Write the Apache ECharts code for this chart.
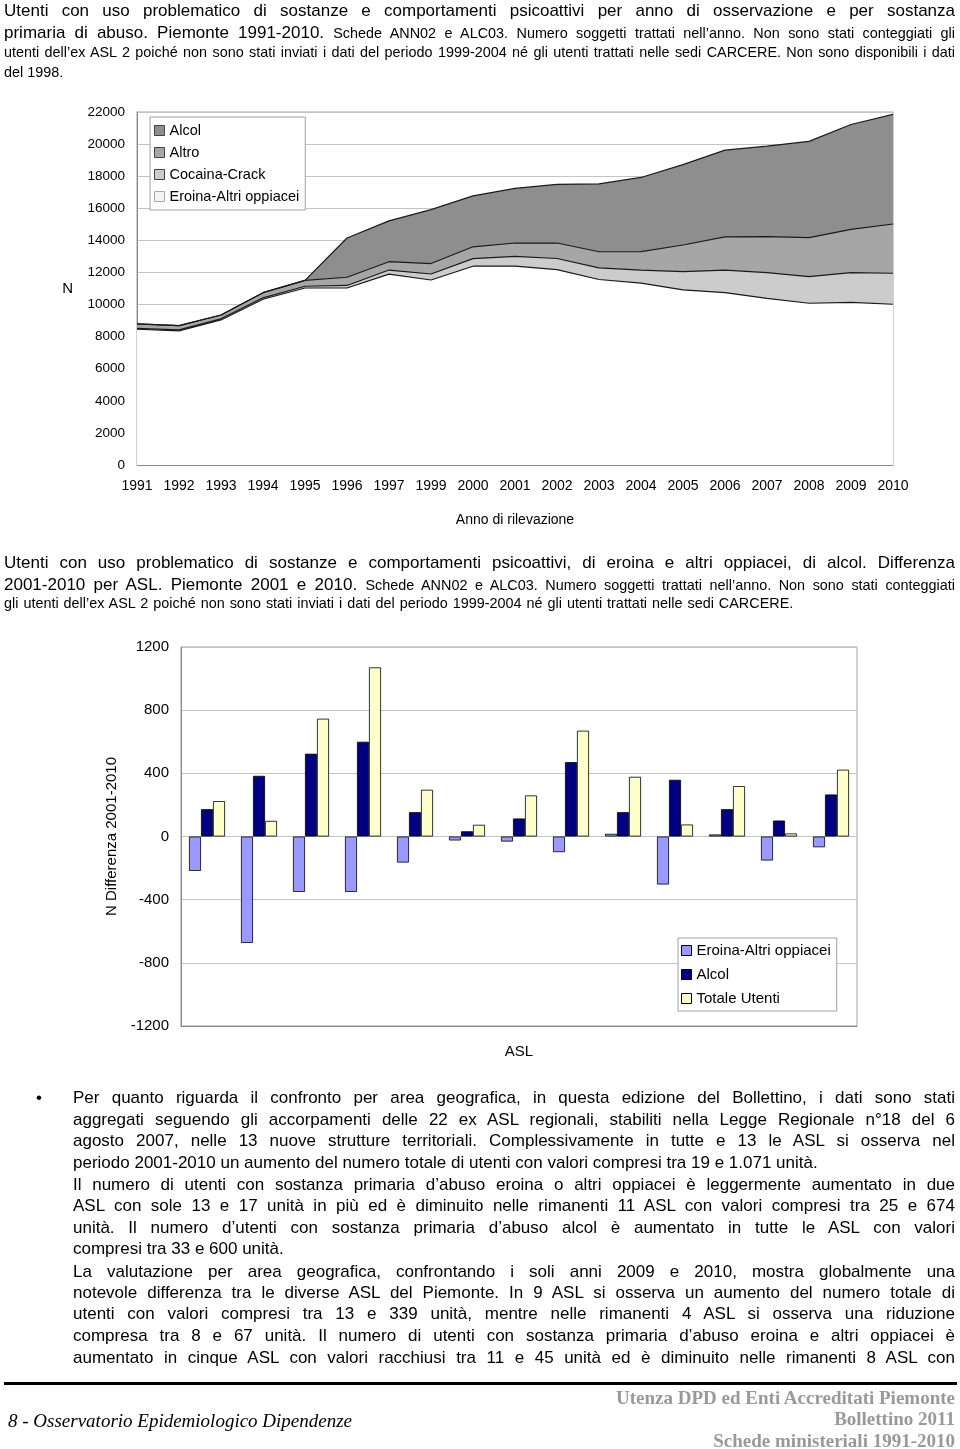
<!DOCTYPE html>
<html><head><meta charset="utf-8">
<script src="https://cdn.jsdelivr.net/npm/echarts@6/dist/echarts.min.js"></script>
<style>
body{margin:0;background:#fff;}
#page{position:relative;width:960px;height:1449px;overflow:hidden;font-family:"Liberation Sans",Arial,sans-serif;color:#000;background:#fff;}
#chart{position:absolute;left:0;top:0;width:960px;height:1449px;}
.ln{position:absolute;height:22px;line-height:22px;font-size:17px;white-space:normal;}
.j{text-align:justify;text-align-last:justify;}
.s{font-size:14.4px;}
.ft{position:absolute;font-family:"Liberation Serif","Times New Roman",serif;font-size:19px;line-height:22px;height:22px;}
</style></head>
<body><div id="page">
<div id="chart"></div>

<div class="ln j" style="left:4px;width:951px;top:0px;">Utenti con uso problematico di sostanze e comportamenti psicoattivi per anno di osservazione e per sostanza</div>
<div class="ln j" style="left:4px;width:951px;top:22px;">primaria di abuso. Piemonte 1991-2010. <span class="s">Schede ANN02 e ALC03. Numero soggetti trattati nell’anno. Non sono stati conteggiati gli</span></div>
<div class="ln j s" style="left:4px;width:951px;top:41px;">utenti dell’ex ASL 2 poiché non sono stati inviati i dati del periodo 1999-2004 né gli utenti trattati nelle sedi CARCERE. Non sono disponibili i dati</div>
<div class="ln s" style="left:4px;width:951px;top:61px;">del 1998.</div>

<div class="ln j" style="left:4px;width:951px;top:552px;">Utenti con uso problematico di sostanze e comportamenti psicoattivi, di eroina e altri oppiacei, di alcol. Differenza</div>
<div class="ln j" style="left:4px;width:951px;top:574px;">2001-2010 per ASL. Piemonte 2001 e 2010. <span class="s">Schede ANN02 e ALC03. Numero soggetti trattati nell’anno. Non sono stati conteggiati</span></div>
<div class="ln s" style="left:4px;width:951px;top:592px;word-spacing:1px;">gli utenti dell’ex ASL 2 poiché non sono stati inviati i dati del periodo 1999-2004 né gli utenti trattati nelle sedi CARCERE.</div>

<div class="ln" style="left:36px;top:1087px;">•</div>
<div class="ln j" style="left:73px;width:882px;top:1087px;">Per quanto riguarda il confronto per area geografica, in questa edizione del Bollettino, i dati sono stati</div>
<div class="ln j" style="left:73px;width:882px;top:1109px;">aggregati seguendo gli accorpamenti delle 22 ex ASL regionali, stabiliti nella Legge Regionale n°18 del 6</div>
<div class="ln j" style="left:73px;width:882px;top:1130px;">agosto 2007, nelle 13 nuove strutture territoriali. Complessivamente in tutte e 13 le ASL si osserva nel</div>
<div class="ln" style="left:73px;width:882px;top:1152px;">periodo 2001-2010 un aumento del numero totale di utenti con valori compresi tra 19 e 1.071 unità.</div>
<div class="ln j" style="left:73px;width:882px;top:1174px;">Il numero di utenti con sostanza primaria d’abuso eroina o altri oppiacei è leggermente aumentato in due</div>
<div class="ln j" style="left:73px;width:882px;top:1195px;">ASL con sole 13 e 17 unità in più ed è diminuito nelle rimanenti 11 ASL con valori compresi tra 25 e 674</div>
<div class="ln j" style="left:73px;width:882px;top:1217px;">unità. Il numero d’utenti con sostanza primaria d’abuso alcol è aumentato in tutte le ASL con valori</div>
<div class="ln" style="left:73px;width:882px;top:1238px;">compresi tra 33 e 600 unità.</div>
<div class="ln j" style="left:73px;width:882px;top:1261px;">La valutazione per area geografica, confrontando i soli anni 2009 e 2010, mostra globalmente una</div>
<div class="ln j" style="left:73px;width:882px;top:1282px;">notevole differenza tra le diverse ASL del Piemonte. In 9 ASL si osserva un aumento del numero totale di</div>
<div class="ln j" style="left:73px;width:882px;top:1303px;">utenti con valori compresi tra 13 e 339 unità, mentre nelle rimanenti 4 ASL si osserva una riduzione</div>
<div class="ln j" style="left:73px;width:882px;top:1325px;">compresa tra 8 e 67 unità. Il numero di utenti con sostanza primaria d’abuso eroina e altri oppiacei è</div>
<div class="ln j" style="left:73px;width:882px;top:1347px;">aumentato in cinque ASL con valori racchiusi tra 11 e 45 unità ed è diminuito nelle rimanenti 8 ASL con</div>

<div style="position:absolute;left:4px;width:953px;top:1382px;height:3px;background:#000;"></div>
<div class="ft" style="left:8px;top:1410px;font-style:italic;">8 - Osservatorio Epidemiologico Dipendenze</div>
<div class="ft" style="right:5px;top:1387px;text-align:right;color:#999;font-weight:bold;">Utenza DPD ed Enti Accreditati Piemonte</div>
<div class="ft" style="right:5px;top:1408px;text-align:right;color:#999;font-weight:bold;">Bollettino 2011</div>
<div class="ft" style="right:5px;top:1430px;text-align:right;color:#999;font-weight:bold;">Schede ministeriali 1991-2010</div>
</div>

<script>
// ---- Chart 1 data: utenti per anno e sostanza primaria ----
var years = ['1991','1992','1993','1994','1995','1996','1997','1999','2000','2001','2002','2003','2004','2005','2006','2007','2008','2009','2010'];
var eroina  = [8460,8360,9040,10330,11030,11030,11900,11530,12390,12400,12180,11560,11340,10910,10740,10390,10080,10140,10020];
var cocaina = [60,60,70,90,110,160,250,375,470,606,690,730,810,1140,1410,1600,1660,1850,1930];
var altro   = [270,270,240,320,370,510,520,650,740,828,965,1000,1150,1660,2070,2240,2430,2700,3070];
var alcol   = [0,0,0,0,0,2450,2545,3360,3170,3404,3660,4226,4620,5010,5400,5640,6000,6530,6830];

// ---- Chart 2 data: differenza 2001-2010 per ASL ----
var asl = ['1','2','3','4','5','6','7','8','9','10','11','12','13'];
var eroinaDiff = [-218,-674,-351,-351,-165,-25,-32,-99,17,-304,13,-152,-68];
var alcolDiff  = [173,384,524,600,154,33,114,471,154,359,173,101,266];
var totaleDiff = [224,99,746,1071,296,74,260,670,378,76,319,19,423];

var FONT = 'Liberation Sans';
var C1 = {eroina: '#ffffff', cocaina: '#cccccc', altro: '#a6a6a6', alcol: '#8e8e8e'};
var C2 = {eroina: '#9999ff', alcol: '#000080', totale: '#ffffcc'};

function area(name, data, color) {
  return {
    name: name, type: 'line', stack: 'tot', data: data,
    xAxisIndex: 0, yAxisIndex: 0,
    symbol: 'none', color: color,
    lineStyle: {color: '#1a1a1a', width: 1.2},
    areaStyle: {color: color, opacity: 1},
    emphasis: {disabled: true}
  };
}
function bar(name, data, color) {
  return {
    name: name, type: 'bar', data: data, xAxisIndex: 1, yAxisIndex: 1,
    barWidth: 12, barGap: '0%', color: color,
    itemStyle: {color: color, borderColor: '#000', borderWidth: 0.8},
    emphasis: {disabled: true}
  };
}
function plain(v) { return String(v); }

var chart = echarts.init(document.getElementById('chart'), null, {renderer: 'canvas'});
chart.setOption({
  animation: false,
  backgroundColor: 'transparent',
  textStyle: {fontFamily: FONT, color: '#000'},
  grid: [
    {left: 137, top: 112, width: 756, height: 353, show: true, borderColor: '#a0a0a0', borderWidth: 1, backgroundColor: 'transparent'},
    {left: 181, top: 647, width: 676, height: 379, show: true, borderColor: '#a0a0a0', borderWidth: 1, backgroundColor: 'transparent'}
  ],
  legend: [
    {
      data: [
        {name: 'Alcol', itemStyle: {color: C1.alcol}},
        {name: 'Altro', itemStyle: {color: C1.altro}},
        {name: 'Cocaina-Crack', itemStyle: {color: C1.cocaina}},
        {name: 'Eroina-Altri oppiacei', itemStyle: {color: '#f4f4f4', borderColor: '#aaa'}}
      ],
      orient: 'vertical', left: 150, top: 117, padding: [6, 6, 6, 4],
      itemGap: 7, itemWidth: 10, itemHeight: 10, icon: 'rect',
      backgroundColor: '#fff', borderColor: '#a0a0a0', borderWidth: 1, borderRadius: 0,
      itemStyle: {borderColor: '#444', borderWidth: 1},
      textStyle: {fontSize: 14.5, fontFamily: FONT, color: '#000'},
      selectedMode: false
    },
    {
      data: [
        {name: 'Eroina-Altri oppiacei', itemStyle: {color: C2.eroina}},
        {name: 'Alcol', itemStyle: {color: C2.alcol}},
        {name: 'Totale Utenti', itemStyle: {color: C2.totale}}
      ],
      orient: 'vertical', left: 678, top: 938, padding: [5, 6, 5, 3],
      itemGap: 9, itemWidth: 10, itemHeight: 10, icon: 'rect',
      backgroundColor: '#fff', borderColor: '#a0a0a0', borderWidth: 1, borderRadius: 0,
      itemStyle: {borderColor: '#000', borderWidth: 1},
      textStyle: {fontSize: 15, fontFamily: FONT, color: '#000'},
      selectedMode: false
    }
  ],
  xAxis: [
    {
      gridIndex: 0, type: 'category', data: years, boundaryGap: false,
      axisLine: {show: true, lineStyle: {color: '#888'}},
      axisTick: {show: false},
      axisLabel: {interval: 0, fontSize: 14, margin: 14, color: '#000', fontFamily: FONT},
      splitLine: {show: false},
      name: 'Anno di rilevazione', nameLocation: 'middle', nameGap: 48,
      nameTextStyle: {fontSize: 14, color: '#000', fontFamily: FONT}
    },
    {
      gridIndex: 1, type: 'category', data: asl,
      axisLine: {show: true, onZero: false, lineStyle: {color: '#888'}},
      axisTick: {show: false}, axisLabel: {show: false},
      name: 'ASL', nameLocation: 'middle', nameGap: 18,
      nameTextStyle: {fontSize: 15, color: '#000', fontFamily: FONT}
    }
  ],
  yAxis: [
    {
      gridIndex: 0, type: 'value', min: 0, max: 22000, interval: 2000,
      axisLine: {show: true, lineStyle: {color: '#888'}},
      axisTick: {show: false},
      axisLabel: {fontSize: 13.5, margin: 12, color: '#000', fontFamily: FONT, formatter: plain},
      splitLine: {show: true, lineStyle: {color: '#c4c4c4', width: 1}},
      name: 'N', nameLocation: 'middle', nameGap: 64, nameRotate: 0,
      nameTextStyle: {fontSize: 15, color: '#000', fontFamily: FONT}
    },
    {
      gridIndex: 1, type: 'value', min: -1200, max: 1200, interval: 400,
      axisLine: {show: true, lineStyle: {color: '#888'}},
      axisTick: {show: false},
      axisLabel: {fontSize: 15, margin: 12, color: '#000', fontFamily: FONT, formatter: plain},
      splitLine: {show: true, lineStyle: {color: '#c4c4c4', width: 1}},
      name: 'N Differenza 2001-2010', nameLocation: 'middle', nameGap: 51, nameRotate: 90,
      nameTextStyle: {fontSize: 15, color: '#000', fontFamily: FONT}
    }
  ],
  series: [
    area('Eroina-Altri oppiacei', eroina, C1.eroina),
    area('Cocaina-Crack', cocaina, C1.cocaina),
    area('Altro', altro, C1.altro),
    area('Alcol', alcol, C1.alcol),
    bar('Eroina-Altri oppiacei', eroinaDiff, C2.eroina),
    bar('Alcol', alcolDiff, C2.alcol),
    bar('Totale Utenti', totaleDiff, C2.totale)
  ]
});
</script>
</body></html>
